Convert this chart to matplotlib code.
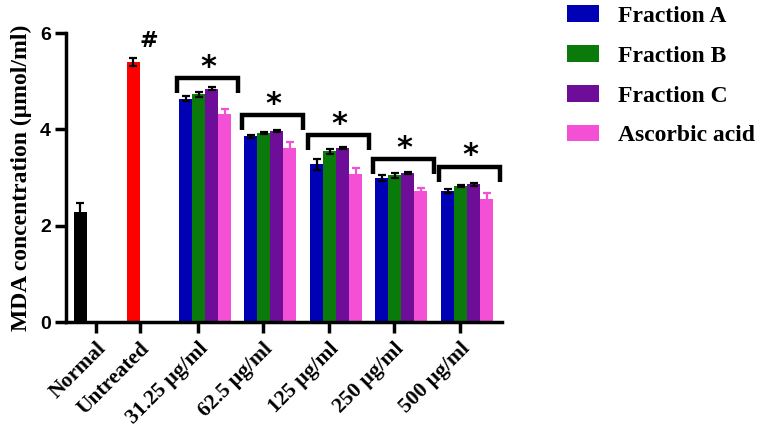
import matplotlib
matplotlib.use("Agg")
import matplotlib.pyplot as plt
from matplotlib.patches import Patch

# ---- data ----
single_labels = ["Normal", "Untreated"]
single_values = [2.28, 5.40]
single_errors = [0.19, 0.08]
single_colors = ["#000000", "#FF0000"]

conc_labels = ["31.25 μg/ml", "62.5 μg/ml", "125 μg/ml", "250 μg/ml", "500 μg/ml"]
series_names = ["Fraction A", "Fraction B", "Fraction C", "Ascorbic acid"]
frac_a = [4.64, 3.86, 3.27, 2.99, 2.72]
frac_b = [4.73, 3.92, 3.54, 3.05, 2.82]
frac_c = [4.84, 3.96, 3.61, 3.09, 2.86]
ascorbic = [4.31, 3.62, 3.08, 2.72, 2.56]
err_a = [0.05, 0.03, 0.12, 0.06, 0.04]
err_b = [0.05, 0.02, 0.05, 0.05, 0.02]
err_c = [0.03, 0.02, 0.02, 0.02, 0.03]
err_asc = [0.11, 0.11, 0.12, 0.06, 0.12]
series_colors = ["#0000B4", "#0A7A0A", "#6E0E98", "#F450D6"]
err_colors = ["black", "black", "black", "#F450D6"]

bracket_tops = [5.06, 4.29, 3.88, 3.38, 3.22]
ytick_vals = [0, 2, 4, 6]

# ---- layout (x in pixel-like units) ----
W, H = 762, 436
x0, x1 = 66, 502
ybot, ytop = 322, 33
single_pos = [80, 133]
group_pos = [205, 270, 336, 401, 467]
tick_pos = [96, 140, 198, 263, 329, 394, 460]
bw = 13

plt.rcParams['font.family'] = ['Liberation Serif', 'DejaVu Serif']
fig = plt.figure(figsize=(W / 100, H / 100), dpi=100)
ax = fig.add_axes([x0 / W, (H - ybot) / H, (x1 - x0) / W, (ybot - ytop) / H])

ekw = dict(elinewidth=1.6, capthick=1.6)
for p, v, e, c in zip(single_pos, single_values, single_errors, single_colors):
    ax.bar(p, v, width=bw, color=c, zorder=2)
    ax.errorbar(p, v, yerr=e, fmt='none', ecolor='black', capsize=3, zorder=3, **ekw)

series = [frac_a, frac_b, frac_c, ascorbic]
errs = [err_a, err_b, err_c, err_asc]
offsets = [-1.5, -0.5, 0.5, 1.5]
handles = []
for s, e, c, ec, off, name in zip(series, errs, series_colors, err_colors, offsets, series_names):
    xs = [g + off * bw for g in group_pos]
    ax.bar(xs, s, width=bw, color=c, zorder=2)
    ax.errorbar(xs, s, yerr=e, fmt='none', ecolor=ec, capsize=3, zorder=3, **ekw)
    handles.append(Patch(facecolor=c, label=name))

# brackets and stars
unit = 6 / (ybot - ytop)
leg = 15 * unit
for g, top in zip(group_pos, bracket_tops):
    left = g - 28
    right = g + 33
    ax.plot([left, left, right, right], [top - leg, top, top, top - leg],
            color='black', lw=3.2, solid_capstyle='butt', solid_joinstyle='miter',
            clip_on=False, zorder=4)
    ax.text(g + 3, top + 11 * unit, "*", ha='center', va='center', fontsize=22,
            fontweight='bold', family='DejaVu Sans', clip_on=False)

ax.text(single_pos[1] + 16, single_values[1] + 0.22, "#", ha='center', va='bottom',
        fontsize=16, fontweight='bold', family='DejaVu Sans')

ax.set_xlim(x0, x1)
ax.set_ylim(0, 6)
ax.set_yticks(ytick_vals)
ax.set_yticklabels([str(v) for v in ytick_vals], family='Liberation Sans',
                   fontweight='bold', fontsize=14)
ax.set_xticks(tick_pos)
ax.set_xticklabels(single_labels + conc_labels, rotation=45, ha='right', va='top',
                   rotation_mode='anchor', fontsize=15.5, fontweight='bold')
ax.tick_params(axis='both', direction='out', length=8, width=2.5, color='black')
ax.tick_params(axis='x', pad=4)
ax.tick_params(axis='y', pad=3)
for sp in ['top', 'right']:
    ax.spines[sp].set_visible(False)
for sp in ['left', 'bottom']:
    ax.spines[sp].set_linewidth(2.5)

ax.set_ylabel("MDA concentration (μmol/ml)", fontsize=17, fontweight='bold', labelpad=6)

fig.legend(handles=handles, loc='upper left', bbox_to_anchor=(546 / W, 1.037),
           frameon=False, prop={'size': 17, 'weight': 'bold'},
           handlelength=1.35, handleheight=0.7, handletextpad=0.8, labelspacing=0.78)

fig.savefig("out.png", dpi=100)
